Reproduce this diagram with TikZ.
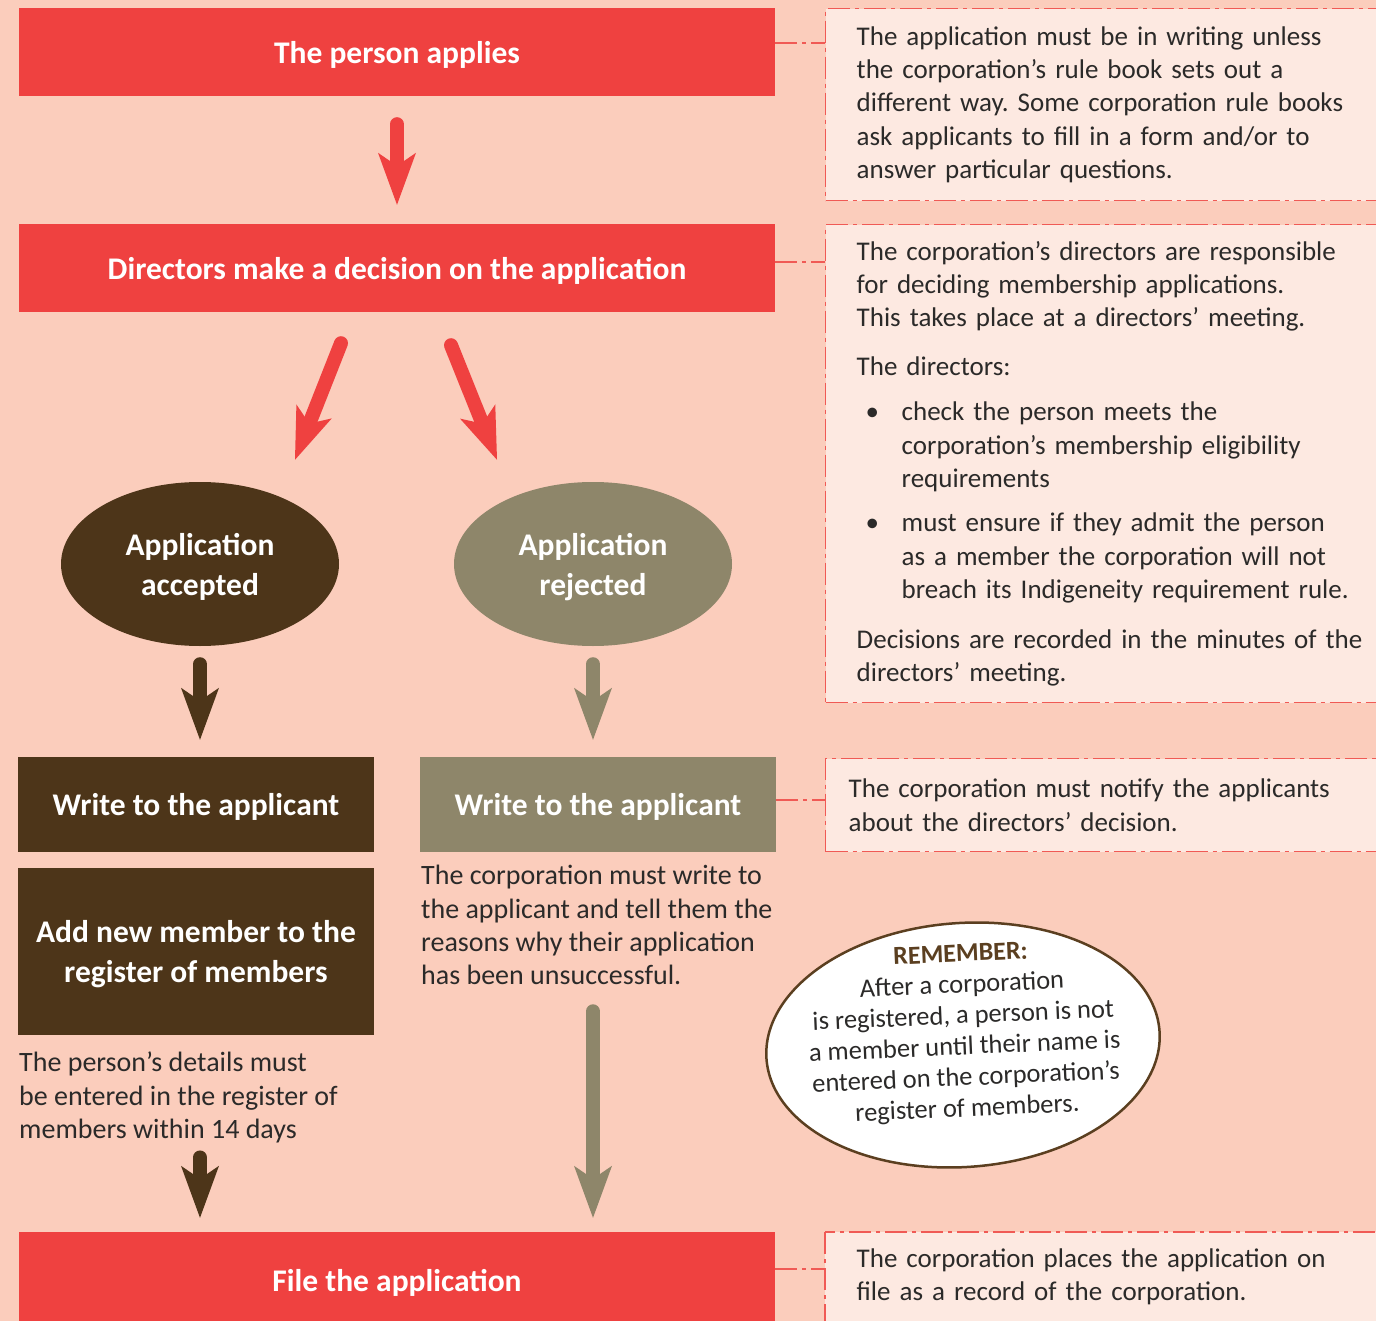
\documentclass[tikz,border=0pt]{standalone}
\usepackage{fontspec}
\setmainfont{Carlito}
\usetikzlibrary{arrows.meta,calc,shapes.geometric}

\definecolor{peach}{HTML}{FBCDBC}
\definecolor{flowred}{HTML}{EF4140}
\definecolor{notefill}{HTML}{FDE9E1}
\definecolor{notered}{HTML}{F05A55}
\definecolor{darkbrown}{HTML}{4D3519}
\definecolor{olive}{HTML}{8E866A}
\definecolor{bodytext}{HTML}{2B2A29}
\definecolor{rembrown}{HTML}{5B3F20}

\newcommand{\bodysize}{\fontsize{27}{33.4}\selectfont}
\newcommand{\sidesize}{\fontsize{28}{33.4}\selectfont}
\newcommand{\titlesize}{\fontsize{31.5}{40}\selectfont}
\newcommand{\blt}{\makebox[45pt][l]{\hspace{9pt}\textbullet}}
\newcommand{\bulind}{\hspace*{45pt}}

\tikzset{
	flowbox/.style={rectangle, minimum width=756pt, minimum height=88pt, inner sep=0pt, text depth=0pt, text=white, font=\titlesize\bfseries, align=center},
	redbox/.style={flowbox, fill=flowred},
	brownbox/.style={flowbox, fill=darkbrown, minimum width=356pt, minimum height=95pt},
	olivebox/.style={flowbox, fill=olive, minimum width=356pt, minimum height=95pt},
	outcome/.style={ellipse, minimum width=278pt, minimum height=164pt, inner sep=0pt, text depth=0pt, text=white, font=\titlesize\bfseries, align=center},
	noteframe/.style={draw=notered, fill=notefill, line width=1.4pt, dash pattern=on 22pt off 5pt on 4pt off 5pt},
	notebox/.style={noteframe, rectangle, anchor=north west, inner xsep=31pt, inner ysep=0pt, text width=520pt, align=left, font=\bodysize, text=bodytext},
	notelink/.style={draw=notered, line width=1.4pt, dash pattern=on 22pt off 5pt on 4pt off 5pt},
	plaintext/.style={anchor=north west, inner sep=0pt, align=left, font=\sidesize, text=bodytext},
	flowarrow/.style={line width=14pt, line cap=round, -{Stealth[length=52pt, width=38pt, inset=13pt, line width=0pt]}},
}

\begin{document}
\frenchspacing
\begin{tikzpicture}[x=1pt, y=-1pt]
			%%%%% PAGE %%%%%
			\fill[peach] (0,0) rectangle (1376,1321);
			\useasboundingbox (0,0) rectangle (1376,1321);
			
			%%%%% FLOW %%%%%
			\node[redbox] (apply) at (397,52) {The person applies};
			\node[redbox] (decide) at (397,268) {Directors make a decision on the application};
			
			\node[outcome, fill=darkbrown] (accept) at (200,564) {Application\\accepted};
			\node[outcome, fill=olive] (reject) at (593,564) {Application\\rejected};
			
			\node[brownbox] (writeyes) at (196,804.5) {Write to the applicant};
			\node[olivebox] (writeno) at (598,804.5) {Write to the applicant};
			\node[brownbox, minimum height=167pt] (addmember) at (196,951.5) {Add new member to the\\register of members};
			
			\node[plaintext] (details) at (19,1052) {The person’s details must\\be entered in the register of\\members within 14 days};
			\node[plaintext] (reasons) at (421,865) {The corporation must write to\\the applicant and tell them the\\reasons why their application\\has been unsuccessful.};
			
			\node[redbox, minimum height=96pt] (file) at (397,1280) {File the application};
			
			%%%%% ARROWS %%%%%
			\draw[flowarrow, flowred, shorten <=28pt, shorten >=19pt] (apply.south) -- (decide.north);
			\draw[flowarrow, flowred] ($(decide.south)+(-56,31)$) -- ($(accept.north)+(95,-22)$);
			\draw[flowarrow, flowred] ($(decide.south)+(54,33)$) -- ($(reject.north)+(-96,-22)$);
			
			\draw[flowarrow, darkbrown, shorten <=18pt, shorten >=17pt] (accept.south) -- (accept.south |- writeyes.north);
			\draw[flowarrow, olive, shorten <=18pt, shorten >=17pt] (reject.south) -- (reject.south |- writeno.north);
			
			\draw[flowarrow, darkbrown, shorten <=14pt, shorten >=14pt] (accept.south |- details.south) -- (accept.south |- file.north);
			\draw[flowarrow, olive, shorten <=26pt, shorten >=14pt] (reject.south |- reasons.south) -- (reject.south |- file.north);
			
			%%%%% NOTES %%%%%
			\node[notebox, minimum height=192pt] (noteA) at (825,8) {The application must be in writing unless\\the corporation’s rule book sets out a\\different way. Some corporation rule books\\ask applicants to fill in a form and/or to\\answer particular questions.};
			
			\node[notebox, minimum height=478pt] (noteB) at (825,224) {The corporation’s directors are responsible\\for deciding membership applications.\\This takes place at a directors’ meeting.\\[15pt]The directors:\\[12pt]\blt check the person meets the\\\bulind corporation’s membership eligibility\\\bulind requirements\\[11pt]\blt must ensure if they admit the person\\\bulind as a member the corporation will not\\\bulind breach its Indigeneity requirement rule.\\[16pt]Decisions are recorded in the minutes of the\\directors’ meeting.};
			
			\node[notebox, minimum height=93pt, inner xsep=23pt] (noteC) at (825,758) {The corporation must notify the applicants\\about the directors’ decision.};
			
			\path[noteframe] (825,1232) rectangle (1420,1380);
			\node[notebox, draw=none, fill=none, minimum height=88pt] (noteD) at (825,1232) {The corporation places the application on\\file as a record of the corporation.};
			
			\draw[notelink] ($(apply.east)+(0,-9)$) coordinate (la) -- (la -| noteA.west);
			\draw[notelink] ($(decide.east)+(0,-6)$) coordinate (lb) -- (lb -| noteB.west);
			\draw[notelink] ($(writeno.east)+(0,-4.5)$) coordinate (lc) -- (lc -| noteC.west);
			\draw[notelink] ($(file.east)+(0,-11)$) coordinate (ld) -- (ld -| noteD.west);
			
			%%%%% REMEMBER %%%%%
			\node[ellipse, draw=rembrown, line width=2.5pt, fill=white, minimum width=394pt, minimum height=244pt, rotate=4] (remember) at (963,1045) {};
			\node[rotate=2.5, align=center, font=\fontsize{26.5}{31}\selectfont, text=bodytext] (remtext) at ($(remember.center)+(1,-12)$) {{\color{rembrown}\fontsize{26}{31}\selectfont\bfseries REMEMBER:}\\After a corporation\\is registered, a person is not\\a member until their name is\\entered on the corporation’s\\register of members.};
\end{tikzpicture}
\end{document}
